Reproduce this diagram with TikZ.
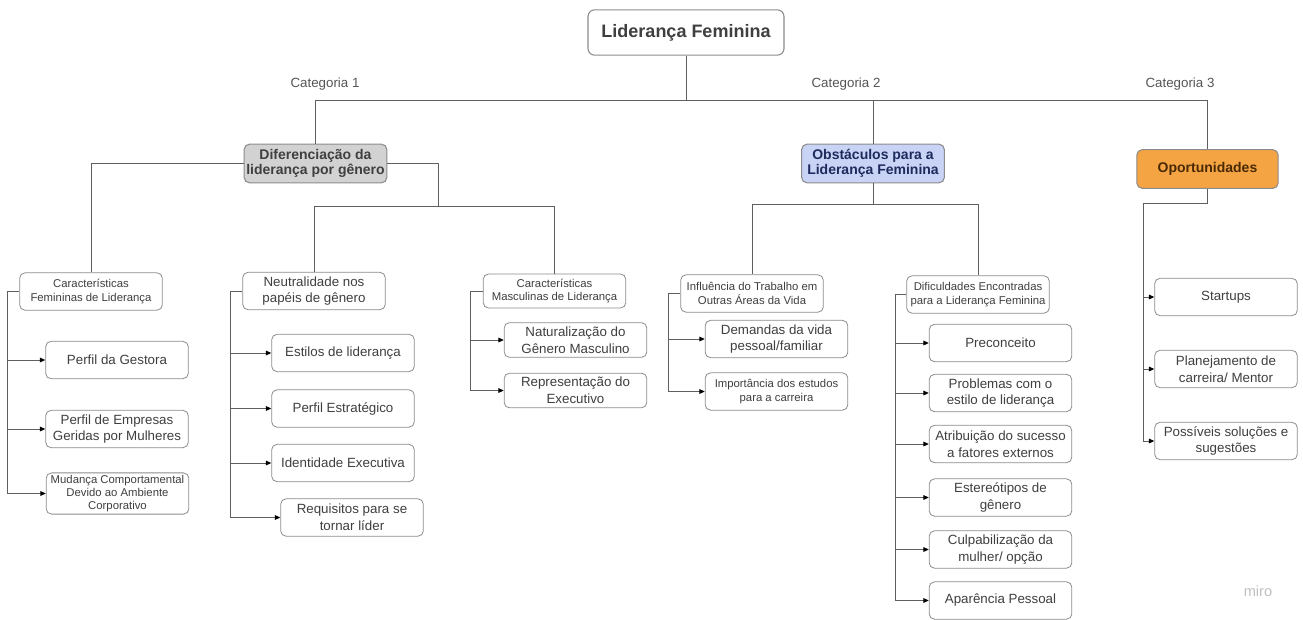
\documentclass[tikz,border=0pt]{standalone}
\usepackage{fontspec}
\setmainfont{Liberation Sans}
\usetikzlibrary{arrows.meta}
\definecolor{linegray}{HTML}{5F5F5F}
\definecolor{boxgray}{HTML}{8C8C8C}
\definecolor{txtgray}{HTML}{3F3F3F}
\definecolor{labelgray}{HTML}{555555}
\definecolor{difgray}{HTML}{D2D2D2}
\definecolor{obsblue}{HTML}{C8D3F6}
\definecolor{obsnavy}{HTML}{1E2B5C}
\definecolor{opporange}{HTML}{F4A443}
\definecolor{oppbrown}{HTML}{4A2A05}
\tikzset{
  box/.style={draw=boxgray, fill=white, rounded corners=4pt, align=center, minimum width=107pt,
    minimum height=28pt, inner sep=1.5pt, text=txtgray, line width=0.6pt,
    font=\fontsize{10}{12.5}\selectfont},
  smallbox/.style={box, font=\fontsize{8.5}{10}\selectfont},
  catbox/.style={box, line width=0.8pt, minimum height=29pt, font=\bfseries\fontsize{10.5}{11.5}\selectfont},
  catlabel/.style={text=labelgray, font=\fontsize{10}{12}\selectfont},
  link/.style={draw=linegray, line width=0.7pt},
  arr/.style={link, -{Triangle[length=4pt,width=3.5pt,color=black]}},
}
\begin{document}
\begin{tikzpicture}[x=0.75pt, y=-0.75pt]
  \useasboundingbox (0,0) rectangle (1303,619);

  %%%%% ROOT AND CATEGORIES %%%%%
  \node[box, line width=0.8pt, minimum width=147pt, minimum height=34pt, rounded corners=5pt,
    font=\bfseries\fontsize{13.5}{15}\selectfont] (root) at (686,32.5) {Liderança Feminina};

  \node[catlabel] (cat1) at (325,84) {Categoria 1};
  \node[catlabel] (cat2) at (846,84) {Categoria 2};
  \node[catlabel] (cat3) at (1180,84) {Categoria 3};

  \node[catbox, fill=difgray] (dif) at (315.5,163.5) {Diferenciação da\\liderança por gênero};
  \node[catbox, fill=obsblue, text=obsnavy] (obs) at (873,163.5) {Obstáculos para a\\Liderança Feminina};
  \node[catbox, fill=opporange, text=oppbrown, minimum width=106pt] (opp) at (1207.5,169) {Oportunidades};

  \coordinate (hub) at (686,100);
  \draw[link] (root.south) -- (hub) -| (dif.north);
  \draw[link] (hub) -| (obs.north);
  \draw[link] (hub) -| (opp.north);

  %%%%% CATEGORIA 1 %%%%%
  \node[smallbox] (fem) at (91,291.5) {Características\\Femininas de Liderança};
  \node[box] (neu) at (314,291) {Neutralidade nos\\papéis de gênero};
  \node[smallbox, minimum height=25.5pt] (masc) at (554.5,291) {Características\\Masculinas de Liderança};

  \coordinate (difR) at (438,206);
  \draw[link] (dif.west) -| (fem.north);
  \draw[link] (dif.east) -| (difR) -| (neu.north);
  \draw[link] (difR) -| (masc.north);

  \node[box] (gest) at (117,360) {Perfil da Gestora};
  \node[box] (emp) at (117,429) {Perfil de Empresas\\Geridas por Mulheres};
  \node[smallbox] (mud) at (117.5,493.5) {Mudança Comportamental\\Devido ao Ambiente\\Corporativo};

  \coordinate (femBus) at (7,291.5);
  \draw[arr] (fem.west) -- (femBus) |- (gest.west);
  \draw[arr] (femBus) |- (emp.west);
  \draw[arr] (femBus) |- (mud.west);

  \node[box] (est) at (343,353) {Estilos de liderança};
  \node[box] (estr) at (343,408.5) {Perfil Estratégico};
  \node[box] (ident) at (343,463) {Identidade Executiva};
  \node[box] (req) at (352,517.5) {Requisitos para se\\tornar líder};

  \coordinate (neuBus) at (230,291);
  \draw[arr] (neu.west) -- (neuBus) |- (est.west);
  \draw[arr] (neuBus) |- (estr.west);
  \draw[arr] (neuBus) |- (ident.west);
  \draw[arr] (neuBus) |- (req.west);

  \node[box, minimum height=26pt] (nat) at (575.5,340) {Naturalização do\\Gênero Masculino};
  \node[box, minimum height=26pt] (rep) at (575.5,390.5) {Representação do\\Executivo};

  \coordinate (mascBus) at (470,291);
  \draw[arr] (masc.west) -- (mascBus) |- (nat.west);
  \draw[arr] (mascBus) |- (rep.west);

  %%%%% CATEGORIA 2 %%%%%
  \node[smallbox] (inf) at (752,293.5) {Influência do Trabalho em\\Outras Áreas da Vida};
  \node[smallbox] (dific) at (978,294.5) {Dificuldades Encontradas\\para a Liderança Feminina};

  \coordinate (obsHub) at (873,204);
  \draw[link] (obs.south) -- (obsHub) -| (inf.north);
  \draw[link] (obsHub) -| (dific.north);

  \node[box] (dem) at (776.5,339) {Demandas da vida\\pessoal/familiar};
  \node[smallbox] (imp) at (776.5,391.5) {Importância dos estudos\\para a carreira};

  \coordinate (infBus) at (668,293.5);
  \draw[arr] (inf.west) -- (infBus) |- (dem.west);
  \draw[arr] (infBus) |- (imp.west);

  \node[box] (prec) at (1000.5,343) {Preconceito};
  \node[box] (prob) at (1000.5,393) {Problemas com o\\estilo de liderança};
  \node[box] (atr) at (1000.5,444) {Atribuição do sucesso\\a fatores externos};
  \node[box] (este) at (1000.5,497.5) {Estereótipos de\\gênero};
  \node[box] (culp) at (1000.5,549.5) {Culpabilização da\\mulher/ opção};
  \node[box] (apar) at (1000.5,600.5) {Aparência Pessoal};

  \coordinate (dificBus) at (895,294.5);
  \draw[arr] (dific.west) -- (dificBus) |- (prec.west);
  \draw[arr] (dificBus) |- (prob.west);
  \draw[arr] (dificBus) |- (atr.west);
  \draw[arr] (dificBus) |- (este.west);
  \draw[arr] (dificBus) |- (culp.west);
  \draw[arr] (dificBus) |- (apar.west);

  %%%%% CATEGORIA 3 %%%%%
  \node[box] (star) at (1226,297) {Startups};
  \node[box] (plan) at (1226,369) {Planejamento de\\carreira/ Mentor};
  \node[box] (poss) at (1226,441) {Possíveis soluções e\\sugestões};

  \coordinate (oppBus) at (1143,203);
  \draw[arr] (opp.south) |- (oppBus) |- (star.west);
  \draw[arr] (oppBus) |- (plan.west);
  \draw[arr] (oppBus) |- (poss.west);

  \node[text=black!25, font=\fontsize{11}{13}\selectfont] (miro) at (1258,591) {miro};
\end{tikzpicture}
\end{document}
